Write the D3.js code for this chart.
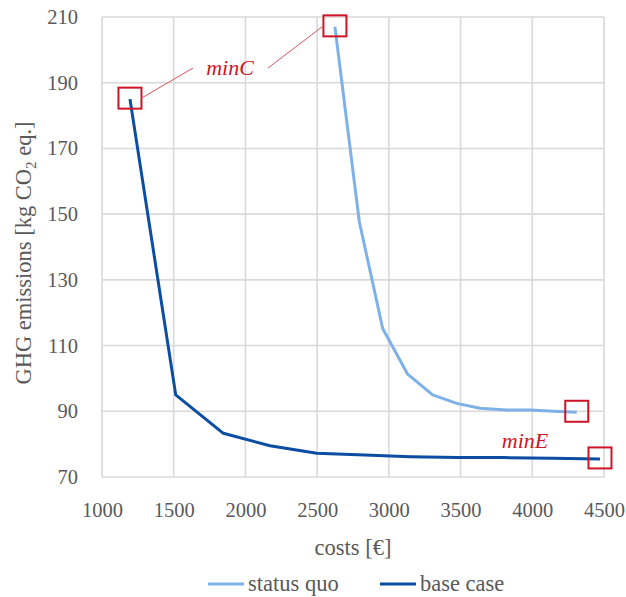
<!DOCTYPE html>
<html>
<head>
<meta charset="utf-8">
<script src="https://cdn.jsdelivr.net/npm/d3@7"></script>
<style>
  html, body { margin: 0; padding: 0; background: #fff; }
  svg { display: block; }
  svg text { font-family: 'Liberation Serif'; }
</style>
</head>
<body>
<div id="chart"></div>
<script>
// Pareto fronts: costs [€] vs GHG emissions [kg CO2 eq.]
const baseCaseCost = [1195, 1514, 1846, 2171, 2497, 2830, 3150, 3480, 3800, 4140, 4472];
const baseCaseGhg  = [185.0, 95.0, 83.3, 79.5, 77.2, 76.7, 76.2, 75.9, 75.9, 75.7, 75.5];
const statusQuoCost = [2624, 2794, 2957, 3131, 3305, 3473, 3635, 3822, 3984, 4150, 4310];
const statusQuoGhg  = [207.0, 147.7, 115.2, 101.3, 95.0, 92.4, 90.9, 90.4, 90.4, 90.0, 89.7];

const xTicks = [1000, 1500, 2000, 2500, 3000, 3500, 4000, 4500];
const yTicks = [70, 90, 110, 130, 150, 170, 190, 210];
const seriesNames = ["status quo", "base case"];

const FONT = "Liberation Serif";

const W = 626, H = 597;
const margin = { left: 102, top: 17, right: 22, bottom: 120 };
const innerW = W - margin.left - margin.right;
const innerH = H - margin.top - margin.bottom;

const colors = { statusQuo: "#7eb1e8", baseCase: "#0a4da2", red: "#cf1426", grid: "#d9d9d9", text: "#595959" };

const svg = d3.select("#chart").append("svg").attr("width", W).attr("height", H)
  .attr("font-family", FONT);
const g = svg.append("g").attr("transform", `translate(${margin.left},${margin.top})`);

const x = d3.scaleLinear().domain([1000, 4500]).range([0, innerW]);
const y = d3.scaleLinear().domain([70, 210]).range([innerH, 0]);

// gridlines (including the frame)
g.append("g").selectAll("line").data(xTicks).join("line")
  .attr("x1", d => x(d)).attr("x2", d => x(d))
  .attr("y1", 0).attr("y2", innerH)
  .attr("stroke", colors.grid).attr("stroke-width", 1.6);
g.append("g").selectAll("line").data(yTicks).join("line")
  .attr("y1", d => y(d)).attr("y2", d => y(d))
  .attr("x1", 0).attr("x2", innerW)
  .attr("stroke", colors.grid).attr("stroke-width", 1.6);

// axes (labels only)
const xAxis = g.append("g").attr("transform", `translate(0,${innerH})`)
  .call(d3.axisBottom(x).tickValues(xTicks).tickFormat(d3.format("d")).tickSize(0).tickPadding(25));
const yAxis = g.append("g")
  .call(d3.axisLeft(y).tickValues(yTicks).tickFormat(d3.format("d")).tickSize(0).tickPadding(24));
[xAxis, yAxis].forEach(a => {
  a.attr("font-family", FONT).attr("font-size", 20.5);
  a.select(".domain").remove();
  a.selectAll("text").attr("fill", colors.text).attr("font-family", FONT);
});

// series
const line = d3.line().x(d => x(d[0])).y(d => y(d[1]));
const sqData = d3.zip(statusQuoCost, statusQuoGhg);
const bcData = d3.zip(baseCaseCost, baseCaseGhg);

g.append("path").datum(sqData).attr("d", line)
  .attr("fill", "none").attr("stroke", colors.statusQuo).attr("stroke-width", 3)
  .attr("stroke-linejoin", "round");
g.append("path").datum(bcData).attr("d", line)
  .attr("fill", "none").attr("stroke", colors.baseCase).attr("stroke-width", 3)
  .attr("stroke-linejoin", "round");

// extreme points marked with squares
const boxW = 23, boxH = 21;
const extremes = [
  bcData[0], sqData[0],
  sqData[sqData.length - 1], bcData[bcData.length - 1]
];
g.append("g").selectAll("rect").data(extremes).join("rect")
  .attr("x", d => x(d[0]) - boxW / 2)
  .attr("y", d => y(d[1]) - boxH / 2 - 1)
  .attr("width", boxW).attr("height", boxH)
  .attr("fill", "none").attr("stroke", colors.red).attr("stroke-width", 2);

// minC annotation with leader lines
const minCx = 128, minCy = 58;
g.append("line")
  .attr("x1", x(bcData[0][0]) + boxW / 2).attr("y1", y(bcData[0][1]) - 1)
  .attr("x2", minCx - 37).attr("y2", minCy - 7)
  .attr("stroke", "#e0535f").attr("stroke-width", 1);
g.append("line")
  .attr("x1", minCx + 38).attr("y1", minCy - 7)
  .attr("x2", x(sqData[0][0]) - boxW / 2).attr("y2", y(sqData[0][1]) - 1)
  .attr("stroke", "#e0535f").attr("stroke-width", 1);
g.append("text").attr("x", minCx).attr("y", minCy).attr("text-anchor", "middle")
  .attr("font-size", 22).attr("font-style", "italic").attr("fill", colors.red)
  .text("minC");

// minE annotation
g.append("text").attr("x", 423).attr("y", 431).attr("text-anchor", "middle")
  .attr("font-size", 22).attr("font-style", "italic").attr("fill", colors.red)
  .text("minE");

// axis titles
svg.append("text").attr("x", margin.left + innerW / 2).attr("y", 555)
  .attr("text-anchor", "middle").attr("font-size", 22.5).attr("fill", colors.text)
  .text("costs [€]");

const yTitle = svg.append("text")
  .attr("transform", `translate(31,${margin.top + innerH / 2 + 6}) rotate(-90)`)
  .attr("text-anchor", "middle").attr("font-size", 22.5).attr("fill", colors.text);
yTitle.append("tspan").text("GHG emissions [kg CO");
yTitle.append("tspan").attr("font-size", 15).attr("dy", 5).text("2");
yTitle.append("tspan").attr("dy", -5).text(" eq.]");

// legend
const legend = svg.append("g");
const legendItems = [
  { name: seriesNames[0], color: colors.statusQuo, x0: 208 },
  { name: seriesNames[1], color: colors.baseCase, x0: 380 }
];
legendItems.forEach(it => {
  legend.append("line").attr("x1", it.x0).attr("x2", it.x0 + 36)
    .attr("y1", 584).attr("y2", 584)
    .attr("stroke", it.color).attr("stroke-width", 3);
  legend.append("text").attr("x", it.x0 + 40).attr("y", 591)
    .attr("font-size", 22.5).attr("fill", colors.text).text(it.name);
});
</script>
</body>
</html>
